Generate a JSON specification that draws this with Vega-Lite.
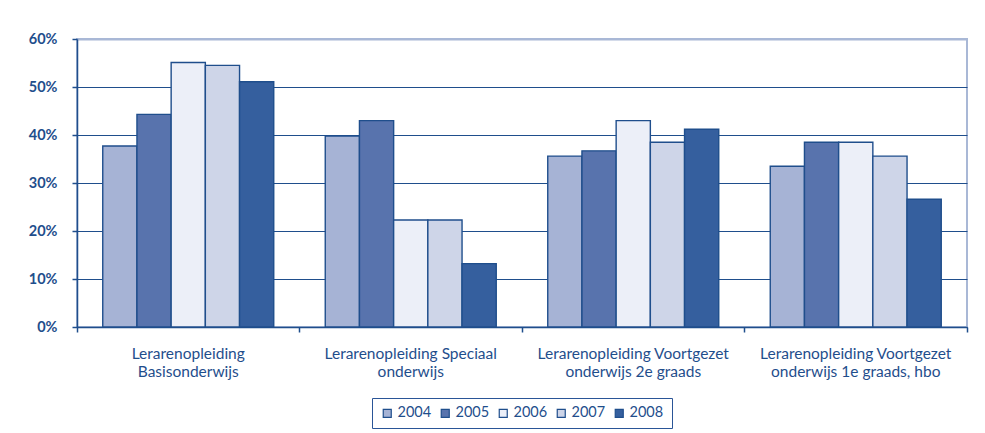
{
  "$schema": "https://vega.github.io/schema/vega-lite/v6.json",
  "autosize": "none",
  "width": 890,
  "height": 288,
  "padding": {"left": 77, "top": 39, "right": 18, "bottom": 106},
  "background": "#ffffff",
  "data": {
    "values": [
      {"opleiding": "Lerarenopleiding Basisonderwijs", "jaar": "2004", "aandeel": 0.377},
      {"opleiding": "Lerarenopleiding Basisonderwijs", "jaar": "2005", "aandeel": 0.443},
      {"opleiding": "Lerarenopleiding Basisonderwijs", "jaar": "2006", "aandeel": 0.551},
      {"opleiding": "Lerarenopleiding Basisonderwijs", "jaar": "2007", "aandeel": 0.545},
      {"opleiding": "Lerarenopleiding Basisonderwijs", "jaar": "2008", "aandeel": 0.511},
      {"opleiding": "Lerarenopleiding Speciaal onderwijs", "jaar": "2004", "aandeel": 0.398},
      {"opleiding": "Lerarenopleiding Speciaal onderwijs", "jaar": "2005", "aandeel": 0.430},
      {"opleiding": "Lerarenopleiding Speciaal onderwijs", "jaar": "2006", "aandeel": 0.223},
      {"opleiding": "Lerarenopleiding Speciaal onderwijs", "jaar": "2007", "aandeel": 0.223},
      {"opleiding": "Lerarenopleiding Speciaal onderwijs", "jaar": "2008", "aandeel": 0.132},
      {"opleiding": "Lerarenopleiding Voortgezet onderwijs 2e graads", "jaar": "2004", "aandeel": 0.356},
      {"opleiding": "Lerarenopleiding Voortgezet onderwijs 2e graads", "jaar": "2005", "aandeel": 0.367},
      {"opleiding": "Lerarenopleiding Voortgezet onderwijs 2e graads", "jaar": "2006", "aandeel": 0.430},
      {"opleiding": "Lerarenopleiding Voortgezet onderwijs 2e graads", "jaar": "2007", "aandeel": 0.385},
      {"opleiding": "Lerarenopleiding Voortgezet onderwijs 2e graads", "jaar": "2008", "aandeel": 0.412},
      {"opleiding": "Lerarenopleiding Voortgezet onderwijs 1e graads, hbo", "jaar": "2004", "aandeel": 0.335},
      {"opleiding": "Lerarenopleiding Voortgezet onderwijs 1e graads, hbo", "jaar": "2005", "aandeel": 0.385},
      {"opleiding": "Lerarenopleiding Voortgezet onderwijs 1e graads, hbo", "jaar": "2006", "aandeel": 0.385},
      {"opleiding": "Lerarenopleiding Voortgezet onderwijs 1e graads, hbo", "jaar": "2007", "aandeel": 0.356},
      {"opleiding": "Lerarenopleiding Voortgezet onderwijs 1e graads, hbo", "jaar": "2008", "aandeel": 0.266}
    ]
  },
  "mark": {"type": "bar", "stroke": "#1F4E8C", "strokeWidth": 1.4},
  "encoding": {
    "x": {
      "field": "opleiding",
      "type": "nominal",
      "sort": null,
      "title": null,
      "scale": {"paddingInner": 0, "paddingOuter": 0},
      "axis": {
        "bandPosition": 1,
        "tickExtra": true,
        "labelAngle": 0,
        "labelPadding": 14,
        "labelLineHeight": 18,
        "labelBaseline": "top",
        "labelFontSize": 15.5,
        "labelLimit": 0,
        "tickSize": 5,
        "labelExpr": "indexof(datum.label, ' onderwijs') > 0 ? [slice(datum.label, 0, indexof(datum.label, ' onderwijs')), slice(datum.label, indexof(datum.label, ' onderwijs') + 1)] : split(datum.label, ' ')"
      }
    },
    "xOffset": {
      "field": "jaar",
      "type": "nominal",
      "scale": {"paddingInner": 0, "paddingOuter": 0.753}
    },
    "y": {
      "field": "aandeel",
      "type": "quantitative",
      "title": null,
      "scale": {"domain": [0, 0.6], "nice": false},
      "axis": {
        "values": [0, 0.1, 0.2, 0.3, 0.4, 0.5, 0.6],
        "format": ".0%",
        "grid": true,
        "gridColor": {"condition": {"test": "datum.value >= 0.6", "value": "#A9B8D6"}, "value": "#1F4E8C"},
        "gridWidth": {"condition": {"test": "datum.value >= 0.6", "value": 2}, "value": 1.2},
        "tickSize": 5,
        "labelPadding": 15,
        "labelFontSize": 14.5,
        "labelFontWeight": "bold"
      }
    },
    "fill": {
      "field": "jaar",
      "type": "nominal",
      "title": null,
      "scale": {
        "domain": ["2004", "2005", "2006", "2007", "2008"],
        "range": ["#A6B3D5", "#5873AD", "#ECEFF8", "#CED5E8", "#355F9E"]
      },
      "legend": {
        "orient": "bottom",
        "direction": "horizontal",
        "symbolType": "square",
        "symbolSize": 64,
        "symbolStrokeColor": "#1F4E8C",
        "symbolStrokeWidth": 1.2,
        "labelFontSize": 14.5,
        "labelOffset": 3,
        "columnPadding": 6,
        "padding": 8,
        "strokeColor": "#2A5597",
        "offset": 18
      }
    }
  },
  "config": {
    "font": "Lato",
    "view": {"stroke": "#A9B8D6", "strokeWidth": 2},
    "axis": {
      "domainColor": "#1F4E8C",
      "domainWidth": 1.5,
      "tickColor": "#1F4E8C",
      "tickWidth": 1.5,
      "labelColor": "#1F4E8C",
      "labelFont": "Lato"
    },
    "legend": {
      "labelColor": "#1F4E8C",
      "labelFont": "Lato",
      "layout": {"bottom": {"anchor": "middle"}}
    }
  }
}
